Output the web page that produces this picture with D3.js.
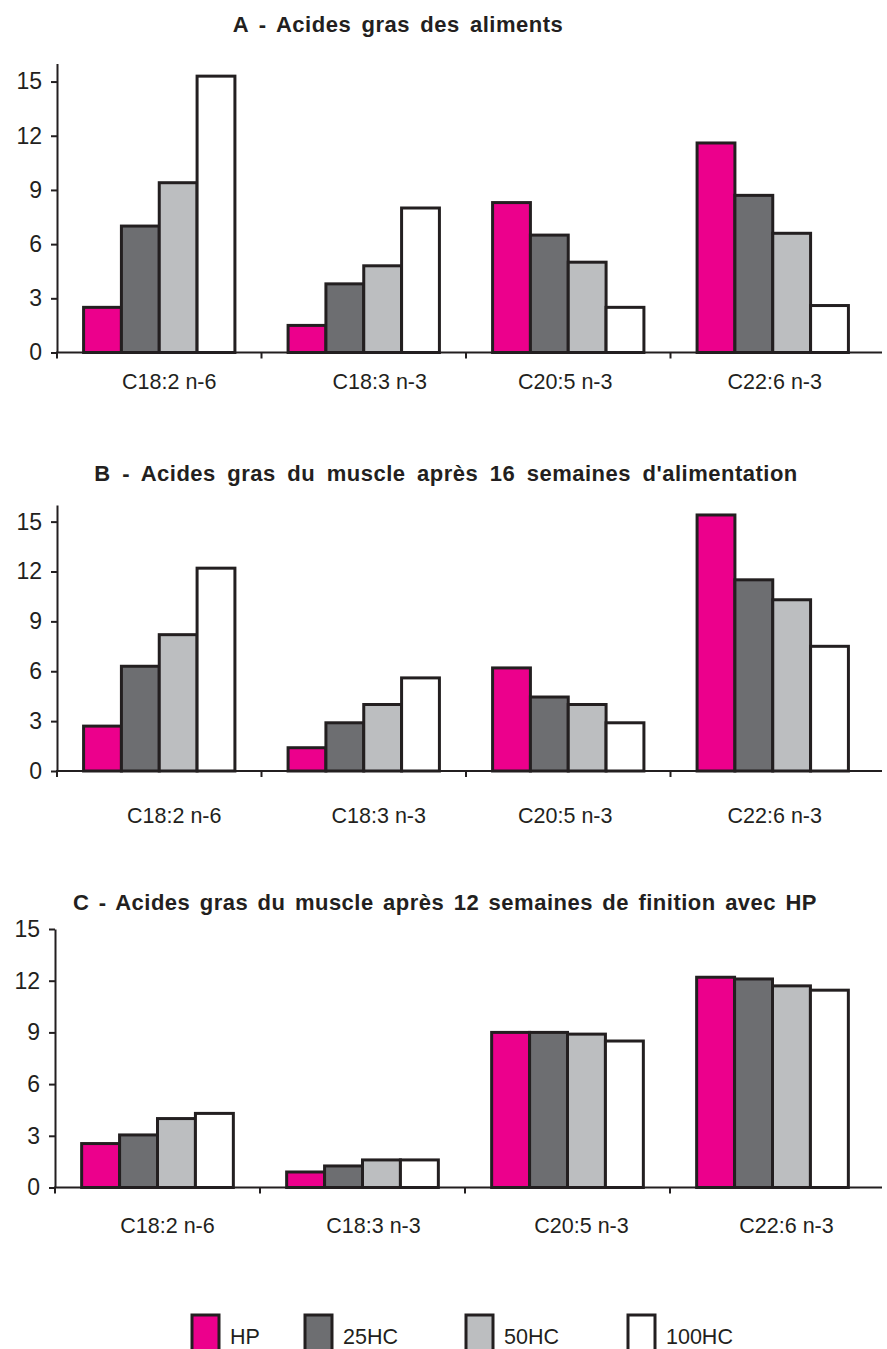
<!DOCTYPE html>
<html>
<head>
<meta charset="utf-8">
<script src="https://cdn.jsdelivr.net/npm/d3@7"></script>
<style>
  body { margin: 0; background: #fff; }
  svg { display: block; font-family: "Liberation Sans", Arial, sans-serif; }
</style>
</head>
<body>
<svg id="chart" width="887" height="1349"></svg>
<script>
const categories = ["C18:2 n-6", "C18:3 n-3", "C20:5 n-3", "C22:6 n-3"];
const series = ["HP", "25HC", "50HC", "100HC"];
const colors = ["#ec008c", "#6d6e71", "#bcbec0", "#ffffff"];
const yTicks = [0, 3, 6, 9, 12, 15];

const titles = [
    "A - Acides gras des aliments",
    "B - Acides gras du muscle après 16 semaines d'alimentation",
    "C - Acides gras du muscle après 12 semaines de finition avec HP"
];

// values per category, one entry per series (HP, 25HC, 50HC, 100HC)
const valuesA = [
    [2.5, 7.0, 9.4, 15.3],
    [1.5, 3.8, 4.8, 8.0],
    [8.3, 6.5, 5.0, 2.5],
    [11.6, 8.7, 6.6, 2.6]
];
const valuesB = [
    [2.7, 6.3, 8.2, 12.2],
    [1.4, 2.9, 4.0, 5.6],
    [6.2, 4.45, 4.0, 2.9],
    [15.4, 11.5, 10.3, 7.5]
];
const valuesC = [
    [2.55, 3.05, 4.0, 4.3],
    [0.9, 1.25, 1.6, 1.6],
    [9.0, 9.0, 8.9, 8.5],
    [12.2, 12.1, 11.7, 11.45]
];

const svg = d3.select("#chart");
const ink = "#231f20";

// layout of the three panels
const panels = [
    { values: valuesA, title: titles[0], titleY: 32, titleX: 398, wordSpace: 3.7, axisX: 57, y0: 352.5, yTop: 63.5, yMax: 16, labelY: 389, labelShift: [10, 16, -3, 2] },
    { values: valuesB, title: titles[1], titleY: 481, titleX: 446, wordSpace: 4.9, axisX: 57, y0: 771, yTop: 505, yMax: 16, labelY: 823, labelShift: [15, 15, -3, 2] },
    { values: valuesC, title: titles[2], titleY: 910, titleX: 445, wordSpace: 2.8, axisX: 55, y0: 1187.5, yTop: 929, yMax: 15, labelY: 1233, labelShift: [10, 11, 14, 14] }
];

panels.forEach(p => {
    const g = svg.append("g");

    const x = d3.scaleBand()
        .domain(categories)
        .range([p.axisX, 875])
        .paddingInner(0.26)
        .paddingOuter(0.13);

    const xs = d3.scaleBand()
        .domain(series)
        .range([0, x.bandwidth()]);

    const y = d3.scaleLinear()
        .domain([0, p.yMax])
        .range([p.y0, p.yTop]);

    g.append("text")
        .attr("x", p.titleX)
        .attr("y", p.titleY)
        .attr("text-anchor", "middle")
        .attr("font-size", 22)
        .attr("font-weight", "bold")
        .attr("fill", ink)
        .style("letter-spacing", "0.5px")
        .style("word-spacing", p.wordSpace + "px")
        .text(p.title);

    // bars
    const groups = g.selectAll(".cat")
        .data(categories)
        .enter().append("g")
        .attr("transform", c => `translate(${x(c)},0)`);

    groups.selectAll("rect")
        .data((c, i) => p.values[i].map((v, j) => ({ s: series[j], v: v, color: colors[j] })))
        .enter().append("rect")
        .attr("x", d => xs(d.s))
        .attr("y", d => y(d.v))
        .attr("width", xs.bandwidth())
        .attr("height", d => y(0) - y(d.v))
        .attr("fill", d => d.color)
        .attr("stroke", ink)
        .attr("stroke-width", 3);

    // y axis
    const yAxis = d3.axisLeft(y)
        .tickValues(yTicks)
        .tickSize(6)
        .tickSizeOuter(0)
        .tickPadding(9);

    const ya = g.append("g")
        .attr("transform", `translate(${p.axisX},0)`)
        .call(yAxis);
    ya.select(".domain").attr("stroke", ink).attr("stroke-width", 2);
    ya.selectAll(".tick line").attr("stroke", ink).attr("stroke-width", 2);
    ya.selectAll(".tick text")
        .attr("font-size", 23)
        .attr("font-family", "Liberation Sans, Arial, sans-serif")
        .attr("fill", ink);

    // x axis line with ticks between categories
    g.append("line")
        .attr("x1", p.axisX - 1)
        .attr("x2", 882)
        .attr("y1", y(0))
        .attr("y2", y(0))
        .attr("stroke", ink)
        .attr("stroke-width", 2);

    const bounds = categories.map(c => x(c) - x.step() * x.paddingInner() / 2);
    g.selectAll(".xtick")
        .data(bounds)
        .enter().append("line")
        .attr("x1", d => d)
        .attr("x2", d => d)
        .attr("y1", y(0))
        .attr("y2", y(0) + 6)
        .attr("stroke", ink)
        .attr("stroke-width", 2);

    g.selectAll(".xlabel")
        .data(categories)
        .enter().append("text")
        .attr("x", (c, i) => x(c) + x.bandwidth() / 2 + p.labelShift[i])
        .attr("y", p.labelY)
        .attr("text-anchor", "middle")
        .attr("font-size", 21.5)
        .attr("fill", ink)
        .text(c => c);
});

// legend
const legendX = [192, 305, 466, 628];
const legend = svg.append("g");
series.forEach((s, i) => {
    legend.append("rect")
        .attr("x", legendX[i])
        .attr("y", 1315)
        .attr("width", 27)
        .attr("height", 40)
        .attr("fill", colors[i])
        .attr("stroke", ink)
        .attr("stroke-width", 3);
    legend.append("text")
        .attr("x", legendX[i] + 38)
        .attr("y", 1344)
        .attr("font-size", 21.5)
        .attr("fill", ink)
        .text(s);
});
</script>
</body>
</html>
